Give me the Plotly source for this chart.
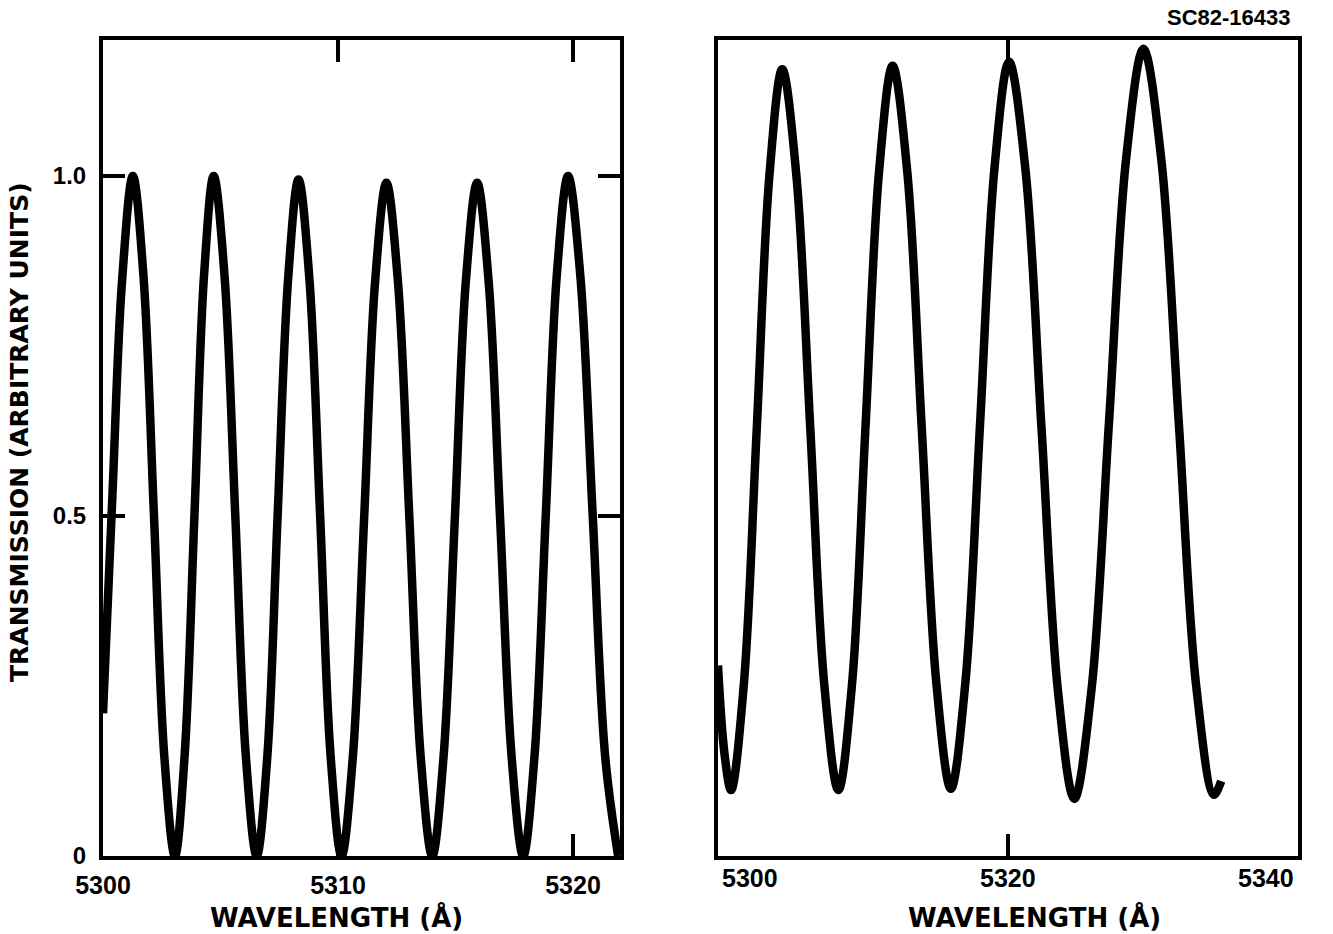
import plotly.graph_objects as go

# Left panel: transmission vs wavelength (Å), 5300-5322
left_wavelength = [
    5300.00, 5300.40, 5300.80, 5301.27,
    5301.72, 5302.17, 5302.61, 5303.06,
    5303.47, 5303.89, 5304.30, 5304.71,
    5305.17, 5305.63, 5306.08, 5306.54,
    5306.99, 5307.43, 5307.88, 5308.32,
    5308.78, 5309.24, 5309.69, 5310.15,
    5310.63, 5311.11, 5311.58, 5312.06,
    5312.55, 5313.04, 5313.52, 5314.01,
    5314.49, 5314.97, 5315.44, 5315.92,
    5316.41, 5316.90, 5317.39, 5317.88,
    5318.36, 5318.84, 5319.31, 5319.79,
    5320.31, 5320.84, 5321.37, 5321.92,
]
left_transmission = [
    0.21, 0.53, 0.84, 1.000,
    0.854, 0.50, 0.146, 0.0,
    0.146, 0.50, 0.854, 1.000,
    0.854, 0.50, 0.146, 0.0,
    0.145, 0.50, 0.850, 0.995,
    0.850, 0.50, 0.145, 0.0,
    0.145, 0.495, 0.845, 0.990,
    0.845, 0.495, 0.145, 0.0,
    0.145, 0.495, 0.845, 0.990,
    0.845, 0.495, 0.145, 0.0,
    0.146, 0.50, 0.854, 1.000,
    0.854, 0.50, 0.146, 0.0,
]

# Right panel: transmission vs wavelength (Å), 5300-5340
right_wavelength = [
    5300.00, 5300.45, 5300.90,
    5301.78, 5302.67, 5303.55, 5304.43,
    5305.40, 5306.37, 5307.33, 5308.30,
    5309.24, 5310.17, 5311.11, 5312.04,
    5313.05, 5314.05, 5315.06, 5316.06,
    5317.06, 5318.07, 5319.07, 5320.07,
    5321.20, 5322.32, 5323.45, 5324.57,
    5325.76, 5326.96, 5328.15, 5329.34,
    5330.56, 5331.77, 5332.98, 5334.20, 5334.70,
]
right_transmission = [
    0.28, 0.15, 0.097,
    0.252, 0.627, 1.002, 1.157,
    1.002, 0.627, 0.252, 0.097,
    0.252, 0.630, 1.007, 1.162,
    1.007, 0.630, 0.254, 0.099,
    0.255, 0.634, 1.012, 1.168,
    1.010, 0.626, 0.242, 0.084,
    0.245, 0.636, 1.026, 1.187,
    1.027, 0.640, 0.250, 0.090, 0.110,
]

left_xticks = [5300, 5310, 5320]
left_xtick_labels = ["5300", "5310", "5320"]
left_yticks = [0, 0.5, 1.0]
left_ytick_labels = ["0", "0.5", "1.0"]
right_xticks = [5300, 5320, 5340]
right_xtick_labels = ["5300", "5320", "5340"]

x_title = "WAVELENGTH (Å)"
y_title = "TRANSMISSION (ARBITRARY UNITS)"
figure_id = "SC82-16433"

W, H = 1333, 934
INK = "#000000"
NUM_FONT = dict(family="Liberation Sans, Arial, sans-serif", size=25, color=INK, weight="bold")
TITLE_FONT = dict(family="DejaVu Sans, sans-serif", size=26, color=INK, weight="bold")


def px_x(p):
    return p / W


def px_y(p):
    return (H - p) / H


fig = go.Figure()

fig.add_trace(go.Scatter(
    x=left_wavelength, y=left_transmission, mode="lines",
    line=dict(color=INK, width=8.5, shape="spline", smoothing=1.0),
    xaxis="x", yaxis="y", showlegend=False, hoverinfo="skip",
))
fig.add_trace(go.Scatter(
    x=right_wavelength, y=right_transmission, mode="lines",
    line=dict(color=INK, width=8.5, shape="spline", smoothing=1.0),
    xaxis="x2", yaxis="y2", showlegend=False, hoverinfo="skip",
))

frame = dict(showline=True, linecolor=INK, linewidth=4, mirror="ticks",
             showgrid=False, zeroline=False, ticks="inside",
             ticklen=22, tickwidth=4, tickcolor=INK, automargin=False)

y_dom = [px_y(856), px_y(40)]

fig.update_layout(
    template="none",
    width=W, height=H,
    margin=dict(l=0, r=0, t=0, b=0, pad=0),
    paper_bgcolor="white", plot_bgcolor="white",
    xaxis=dict(domain=[px_x(103), px_x(620)], range=[5300, 5322],
               tickvals=left_xticks, ticktext=left_xtick_labels,
               tickfont=NUM_FONT, ticklabelstandoff=4, anchor="y", **frame),
    yaxis=dict(domain=y_dom, range=[0, 1.2],
               tickvals=left_yticks, ticktext=left_ytick_labels,
               tickfont=dict(NUM_FONT, size=24), ticklabelstandoff=8,
               anchor="x", **frame),
    xaxis2=dict(domain=[px_x(718), px_x(1298)], range=[5300, 5340],
                tickvals=[5320], showticklabels=False, anchor="y2", **frame),
    yaxis2=dict(domain=y_dom, range=[0, 1.2], anchor="x2", automargin=False,
                showline=True, linecolor=INK, linewidth=4, mirror=True,
                showgrid=False, zeroline=False, ticks="", showticklabels=False),
)

# Tick labels of the right panel, with the end labels kept inside the frame
anchors = ["left", "center", "right"]
shifts = [2, 0, -2]
for val, lab, anc, sh in zip(right_xticks, right_xtick_labels, anchors, shifts):
    fig.add_annotation(x=val, y=0, xref="x2", yref="y2", text=lab,
                       showarrow=False, xanchor=anc, yanchor="top",
                       xshift=sh, yshift=-6, font=NUM_FONT)

# Axis titles and figure number
fig.add_annotation(x=px_x(336), y=px_y(917), xref="paper", yref="paper",
                   text=x_title, showarrow=False, xanchor="center",
                   yanchor="middle", font=TITLE_FONT)
fig.add_annotation(x=px_x(1034), y=px_y(917), xref="paper", yref="paper",
                   text=x_title, showarrow=False, xanchor="center",
                   yanchor="middle", font=TITLE_FONT)
fig.add_annotation(x=px_x(19), y=px_y(432), xref="paper", yref="paper",
                   text=y_title, showarrow=False, textangle=-90,
                   xanchor="center", yanchor="middle",
                   font=dict(TITLE_FONT, size=25))
fig.add_annotation(x=px_x(1229), y=px_y(17), xref="paper", yref="paper",
                   text=figure_id, showarrow=False, xanchor="center",
                   yanchor="middle",
                   font=dict(NUM_FONT, size=22))

fig.write_html("out.html")
